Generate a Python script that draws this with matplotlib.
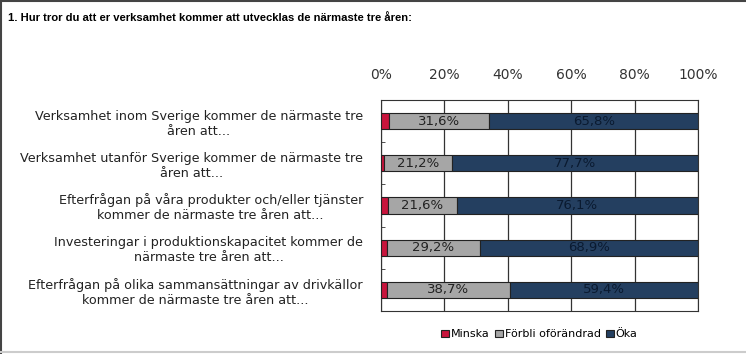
import matplotlib.pyplot as plt
import numpy as np

# frågor (uppifrån och ned)
fragor = [
    "Verksamhet inom Sverige kommer de närmaste tre\nåren att...",
    "Verksamhet utanför Sverige kommer de närmaste tre\nåren att...",
    "Efterfrågan på våra produkter och/eller tjänster\nkommer de närmaste tre åren att...",
    "Investeringar i produktionskapacitet kommer de\nnärmaste tre åren att...",
    "Efterfrågan på olika sammansättningar av drivkällor\nkommer de närmaste tre åren att...",
]
minska = [2.6, 1.1, 2.3, 1.9, 1.9]
forbli = [31.6, 21.2, 21.6, 29.2, 38.7]
oka = [65.8, 77.7, 76.1, 68.9, 59.4]
serier = ["Minska", "Förbli oförändrad", "Öka"]
farger = ["#c8143c", "#a6a6a6", "#243f60"]

fig = plt.figure(figsize=(7.46, 3.54), dpi=100)
fig.text(0.011, 0.95, "1. Hur tror du att er verksamhet kommer att utvecklas de närmaste tre åren:",
         fontsize=8.1, fontweight="bold", va="center", ha="left",
         family=["Liberation Sans", "DejaVu Sans"])

# ram runt bilden (vänster, topp, ljus nederkant)
fig.add_artist(plt.Line2D([0.0015, 0.0015], [0, 1], transform=fig.transFigure, color="#444444", linewidth=1.5))
fig.add_artist(plt.Line2D([0, 1], [0.998, 0.998], transform=fig.transFigure, color="#444444", linewidth=1.5))
fig.add_artist(plt.Line2D([0, 1], [0.006, 0.006], transform=fig.transFigure, color="#cccccc", linewidth=1.5))

ax = fig.add_axes([0.5107, 0.1215, 0.4249, 0.596])
y = np.arange(len(fragor))
h = 0.38
ax.barh(y, minska, height=h, color=farger[0], edgecolor="#222222", linewidth=0.8, label=serier[0], zorder=3)
left = np.array(minska)
b2 = ax.barh(y, forbli, left=left, height=h, color=farger[1], edgecolor="#222222", linewidth=0.8, label=serier[1], zorder=3)
left = left + np.array(forbli)
b3 = ax.barh(y, oka, left=left, height=h, color=farger[2], edgecolor="#222222", linewidth=0.8, label=serier[2], zorder=3)

ax.bar_label(b2, labels=[f"{v:.1f}%".replace(".", ",") for v in forbli], label_type="center",
             fontsize=9.5, color="#222222")
ax.bar_label(b3, labels=[f"{v:.1f}%".replace(".", ",") for v in oka], label_type="center",
             fontsize=9.5, color="#0a1a30")

ax.set_xlim(0, 100)
ax.set_ylim(len(fragor) - 0.5, -0.5)
ax.set_xticks([0, 20, 40, 60, 80, 100])
ax.set_xticklabels(["0%", "20%", "40%", "60%", "80%", "100%"], fontsize=10, color="#333333")
ax.xaxis.tick_top()
ax.tick_params(axis="x", length=0, pad=13)
ax.set_yticks(y)
ax.set_yticklabels(fragor, fontsize=9.2, multialignment="center", color="#222222")
ax.tick_params(axis="y", length=0, pad=13)
ax.set_yticks(np.arange(len(fragor) + 1) - 0.5, minor=True)
ax.tick_params(axis="y", which="minor", length=3, direction="in", color="#333333")
ax.grid(axis="x", color="#333333", linewidth=0.9, zorder=0)
for s in ax.spines.values():
    s.set_color("#333333")

ax.legend(loc="upper center", bbox_to_anchor=(0.5, -0.04), ncol=3, frameon=False, fontsize=8,
          handlelength=0.7, handleheight=0.7, handletextpad=0.15, columnspacing=0.5)

fig.savefig("out.png", dpi=100)
